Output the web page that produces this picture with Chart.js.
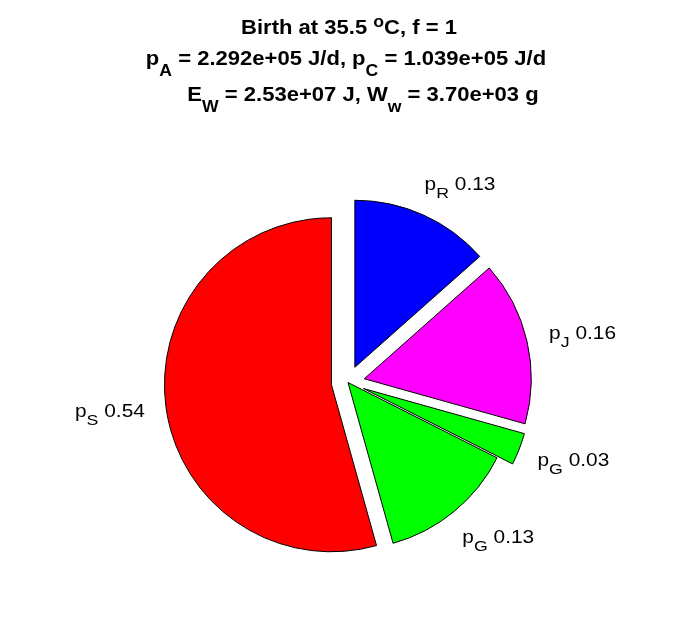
<!DOCTYPE html>
<html>
<head>
<meta charset="utf-8">
<script src="https://cdn.jsdelivr.net/npm/chart.js@4.4.1/dist/chart.umd.min.js"></script>
<style>
  html, body { margin: 0; padding: 0; background: #fff; }
  #wrap { width: 696px; height: 618px; position: relative; }
</style>
</head>
<body>
<div id="wrap"><canvas id="myChart"></canvas></div>
<script>
// slices, clockwise from 12 o'clock
const names = ['p_R', 'p_J', 'p_G', 'p_G', 'p_S'];
const fractions = [0.1345, 0.159, 0.031, 0.132, 0.5435];
const titleLines = [
  'Birth at 35.5 ^oC, f = 1',
  'p_A = 2.292e+05 J/d, p_C = 1.039e+05 J/d',
  'E_W = 2.53e+07 J, W_w = 3.70e+03 g'
];

const FONT = '"Liberation Sans", Arial, Helvetica, sans-serif';

// split "p_A = 1" into plain / sub / sup pieces
function parseTex(s) {
  const out = [];
  let buf = '';
  let i = 0;
  while (i < s.length) {
    const ch = s[i];
    if ((ch === '_' || ch === '^') && i + 1 < s.length) {
      if (buf) { out.push({ t: buf, k: 0 }); buf = ''; }
      let arg;
      if (s[i + 1] === '{') {
        const j = s.indexOf('}', i);
        arg = s.slice(i + 2, j);
        i = j + 1;
      } else {
        arg = s[i + 1];
        i += 2;
      }
      out.push({ t: arg, k: ch === '_' ? -1 : 1 });
    } else {
      buf += ch;
      i++;
    }
  }
  if (buf) out.push({ t: buf, k: 0 });
  return out;
}

// st: {size, weight, stretch, small, drop, rise}
function texWidth(ctx, s, st) {
  let w = 0;
  parseTex(s).forEach(p => {
    ctx.font = st.weight + ' ' + (p.k ? st.size * st.small : st.size) + 'px ' + FONT;
    w += ctx.measureText(p.t).width;
  });
  return w * st.stretch;
}

function drawTex(ctx, s, cx, baseY, st) {
  const w = texWidth(ctx, s, st);
  ctx.save();
  ctx.translate(cx - w / 2, baseY);
  ctx.scale(st.stretch, 1);
  ctx.fillStyle = '#000';
  ctx.textAlign = 'left';
  ctx.textBaseline = 'alphabetic';
  let x = 0;
  parseTex(s).forEach(p => {
    ctx.font = st.weight + ' ' + (p.k ? st.size * st.small : st.size) + 'px ' + FONT;
    const dy = p.k === -1 ? st.drop : (p.k === 1 ? -st.rise : 0);
    ctx.fillText(p.t, x, dy);
    x += ctx.measureText(p.t).width;
  });
  ctx.restore();
}

const titleStyle = { size: 19.5, weight: 'bold', stretch: 1.13, small: 0.8, drop: 11, rise: 7.5 };
const labelStyle = { size: 17.7, weight: 'normal', stretch: 1.18, small: 0.85, drop: 8, rise: 7 };

// pull slices out of the centre along their bisector, as matlab's explode does
const explodePlugin = {
  id: 'explode',
  afterDatasetUpdate(chart, args, opts) {
    const meta = chart.getDatasetMeta(args.index);
    meta.data.forEach((arc, i) => {
      if (!opts.flags[i]) return;
      const mid = (arc.startAngle + arc.endAngle) / 2;
      const d = opts.amount * arc.outerRadius;
      arc.x += Math.cos(mid) * d;
      arc.y += Math.sin(mid) * d;
    });
  }
};

const textPlugin = {
  id: 'texts',
  afterDraw(chart) {
    const ctx = chart.ctx;
    const centers = [349, 346, 363];
    const bases = [34, 65, 101];
    titleLines.forEach((line, i) => drawTex(ctx, line, centers[i], bases[i], titleStyle));

    const meta = chart.getDatasetMeta(0);
    meta.data.forEach((arc, i) => {
      const mid = (arc.startAngle + arc.endAngle) / 2;
      const r = arc.outerRadius * 1.2;
      const side = Math.cos(mid) >= 0 ? 1 : -1;
      const x = arc.x + Math.cos(mid) * r + side * 23;
      const y = arc.y + Math.sin(mid) * r;
      const txt = names[i] + ' ' + fractions[i].toFixed(2);
      drawTex(ctx, txt, x, y + labelStyle.size * 0.3, labelStyle);
    });
  }
};

const data = {
  labels: names,
  datasets: [{
    data: fractions,
    backgroundColor: ['#0000ff', '#ff00ff', '#00ff00', '#00ff00', '#ff0000'],
    borderColor: '#000000',
    borderWidth: 1,
    radius: 167,
    clip: false
  }]
};

const config = {
  type: 'pie',
  data: data,
  options: {
    responsive: true,
    maintainAspectRatio: false,
    animation: false,
    events: [],
    layout: { padding: { top: 160, bottom: 13, left: 0, right: 0 } },
    plugins: {
      legend: { display: false },
      title: { display: false },
      tooltip: { enabled: false },
      explode: { flags: [1, 1, 1, 0, 1], amount: 0.1 }
    }
  },
  plugins: [explodePlugin, textPlugin]
};

var myChart = new Chart(document.getElementById('myChart'), config);
</script>
</body>
</html>
